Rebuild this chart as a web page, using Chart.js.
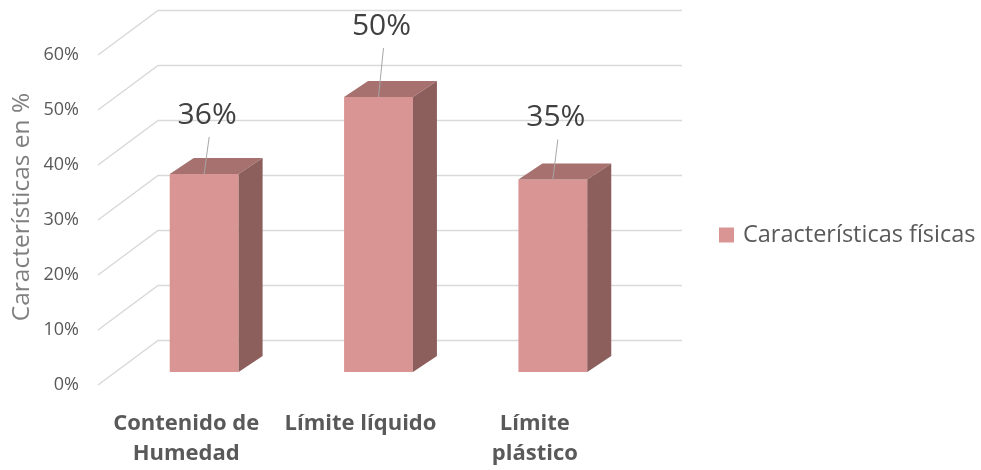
<!DOCTYPE html>
<html>
<head>
<meta charset="utf-8">
<script src="https://cdn.jsdelivr.net/npm/chart.js@4.4.1/dist/chart.umd.min.js"></script>
<style>
  html, body { margin: 0; padding: 0; background: #fff; }
  #wrap { width: 981px; height: 470px; }
</style>
</head>
<body>
<div id="wrap"><canvas id="chart"></canvas></div>
<script>
// data
const categories = [['Contenido de', 'Humedad'], 'Límite líquido', ['Límite', 'plástico']];
const values = [36, 50, 35];
const valueLabels = ['36%', '50%', '35%'];
const yTicks = [0, 10, 20, 30, 40, 50, 60];
const seriesName = 'Características físicas';

// how far each data label was dragged above its bar
const labelLift = [59, 71, 62];

const FRONT = '#D99594';
const TOP = '#A6716F';
const SIDE = '#8C5E5C';
const GRID = '#D9D9D9';
const DEPTH_X = 24, DEPTH_Y = 16;

// back wall + diagonal floor lines, behind the bars
const wallGrid = {
    id: 'wallGrid',
    beforeDatasetsDraw(chart) {
        const { ctx, chartArea, scales: { y } } = chart;
        ctx.save();
        ctx.strokeStyle = GRID;
        ctx.lineWidth = 1.5;
        yTicks.forEach(v => {
            const py = y.getPixelForValue(v);
            ctx.beginPath();
            ctx.moveTo(chartArea.left - 19, py + 13);
            ctx.lineTo(chartArea.left + 41, py - 31.5);
            ctx.lineTo(chartArea.right + 42, py - 31.5);
            ctx.stroke();
        });
        ctx.restore();
    }
};

// top and side faces of each bar
const bar3d = {
    id: 'bar3d',
    afterDatasetsDraw(chart) {
        const { ctx } = chart;
        ctx.save();
        chart.getDatasetMeta(0).data.forEach((bar, i) => {
            const { x, y, base, width } = bar.getProps(['x', 'y', 'base', 'width'], true);
            const l = x - width / 2, r = x + width / 2;
            ctx.fillStyle = TOP;
            ctx.beginPath();
            ctx.moveTo(l, y);
            ctx.lineTo(l + DEPTH_X, y - DEPTH_Y);
            ctx.lineTo(r + DEPTH_X, y - DEPTH_Y);
            ctx.lineTo(r, y);
            ctx.closePath();
            ctx.fill();
            ctx.fillStyle = SIDE;
            ctx.beginPath();
            ctx.moveTo(r, y);
            ctx.lineTo(r + DEPTH_X, y - DEPTH_Y);
            ctx.lineTo(r + DEPTH_X, base - DEPTH_Y);
            ctx.lineTo(r, base);
            ctx.closePath();
            ctx.fill();

            // data label with leader line
            const lx = x + 3, ly = y - labelLift[i];
            ctx.strokeStyle = '#A6A6A6';
            ctx.lineWidth = 1;
            ctx.beginPath();
            ctx.moveTo(lx + 2, ly + 22);
            ctx.lineTo(x, y);
            ctx.stroke();
            ctx.fillStyle = '#404040';
            ctx.font = '30px "Open Sans"';
            ctx.textAlign = 'center';
            ctx.textBaseline = 'middle';
            ctx.fillText(valueLabels[i], lx, ly);
        });
        ctx.restore();
    }
};

// legend off to the right
const sideLegend = {
    id: 'sideLegend',
    afterDraw(chart) {
        const { ctx, chartArea } = chart;
        const x = chartArea.right + 79, cy = 235;
        ctx.save();
        ctx.fillStyle = FRONT;
        ctx.fillRect(x, cy - 7.5, 15, 15);
        ctx.fillStyle = '#595959';
        ctx.font = '23.5px "Open Sans"';
        ctx.textAlign = 'left';
        ctx.textBaseline = 'middle';
        ctx.fillText(chart.data.datasets[0].label, x + 24, cy);
        ctx.restore();
    }
};

new Chart(document.getElementById('chart'), {
    type: 'bar',
    data: {
        labels: categories,
        datasets: [{
            label: seriesName,
            data: values,
            backgroundColor: FRONT,
            barPercentage: 0.395,
            categoryPercentage: 1,
        }],
    },
    options: {
        responsive: true,
        maintainAspectRatio: false,
        animation: false,
        layout: { padding: { top: 42, right: 341, left: 0, bottom: 0 } },
        plugins: {
            legend: { display: false },
            tooltip: { enabled: false },
        },
        scales: {
            x: {
                grid: { display: false, drawTicks: false },
                border: { display: false },
                ticks: {
                    color: '#595959',
                    font: { family: 'Open Sans', size: 22, weight: 'bold', lineHeight: 1.4 },
                    padding: 36,
                    labelOffset: -18,
                    maxRotation: 0,
                    autoSkip: false,
                },
                afterFit(s) { s.height = 98; },
            },
            y: {
                min: 0,
                max: 60,
                afterBuildTicks(s) { s.ticks = yTicks.map(v => ({ value: v })); },
                grid: { display: false, drawTicks: false },
                border: { display: false },
                ticks: {
                    color: '#595959',
                    font: { family: 'Open Sans', size: 18 },
                    padding: 38,
                    labelOffset: 13,
                    callback: v => v + '%',
                },
                title: {
                    display: true,
                    text: 'Características en %',
                    color: '#7F7F7F',
                    font: { family: 'Open Sans', size: 24.5 },
                    padding: { top: 7, bottom: 0 },
                },
                afterFit(s) {
                    s.width = 117;
                    // the big tick padding is only meant sideways
                    s.paddingTop = 0;
                    s.paddingBottom = 0;
                },
            },
        },
    },
    plugins: [wallGrid, bar3d, sideLegend],
});
</script>
</body>
</html>
